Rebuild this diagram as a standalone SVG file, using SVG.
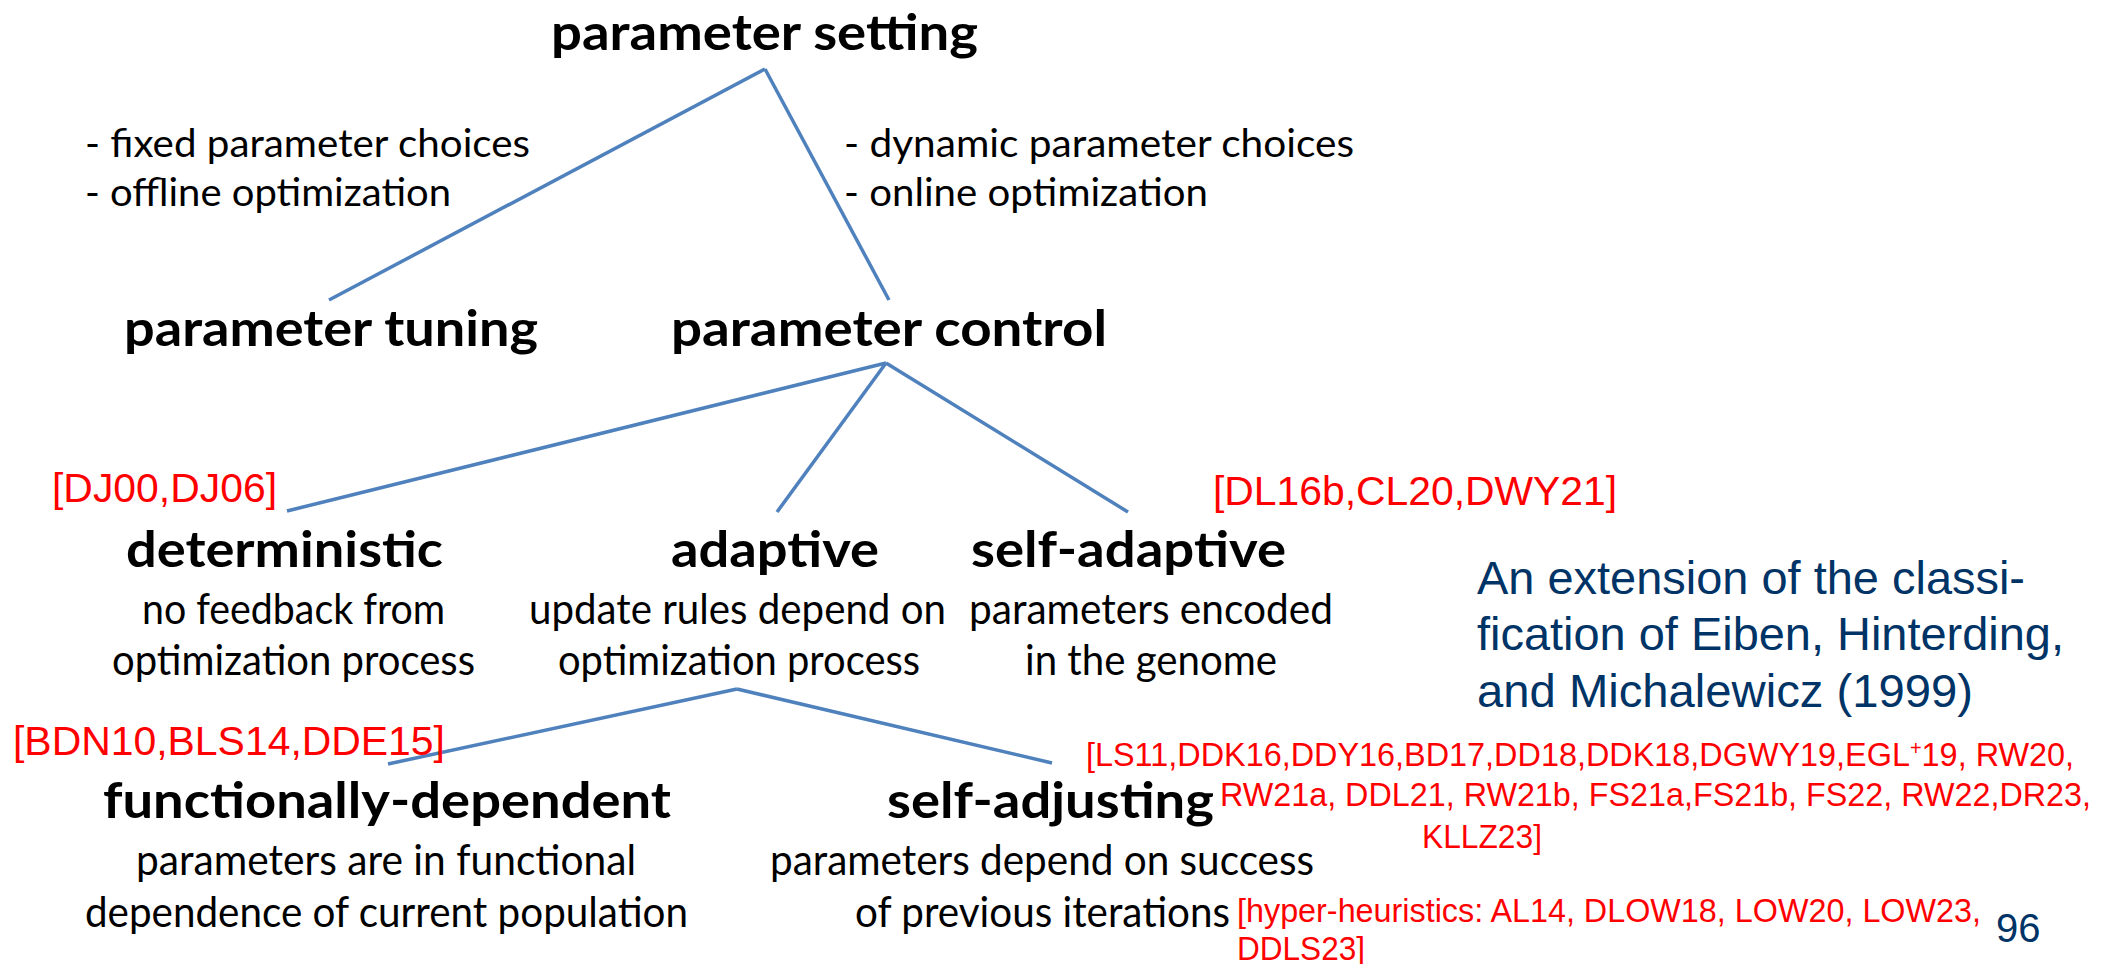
<svg xmlns="http://www.w3.org/2000/svg" width="2114" height="964" viewBox="0 0 2114 964">
  <style>
    .title { font-family: Lato, "Noto Sans", sans-serif; font-weight: 700; font-size: 49px; fill: #000; }
    .sub { font-family: Lato, "Noto Sans", sans-serif; font-weight: 400; font-size: 42px; fill: #000; }
    .lbl { font-family: Lato, "Noto Sans", sans-serif; font-weight: 400; font-size: 38px; fill: #000; }
    .ref { font-family: "Liberation Sans", Arial, sans-serif; font-size: 41px; fill: #ff0000; }
    .refs { font-family: "Liberation Sans", Arial, sans-serif; font-size: 32.4px; fill: #ff0000; }
    .note { font-family: "Liberation Sans", Arial, sans-serif; font-size: 47px; fill: #003366; }
    .page { font-family: "Liberation Sans", Arial, sans-serif; font-size: 40px; fill: #003366; }
    .edge { stroke: #4f81bd; stroke-width: 3.5; fill: none; stroke-linecap: butt; }
  </style>
  <rect width="2114" height="964" fill="#ffffff"/>

  <!-- tree edges -->
  <g id="connectors">
    <line class="edge" x1="765" y1="69" x2="329" y2="300"/>
    <line class="edge" x1="765" y1="69" x2="889" y2="300"/>
    <line class="edge" x1="886" y1="363" x2="287" y2="511"/>
    <line class="edge" x1="886" y1="363" x2="777" y2="512"/>
    <line class="edge" x1="886" y1="363" x2="1128" y2="512"/>
    <line class="edge" x1="737" y1="689" x2="388" y2="764"/>
    <line class="edge" x1="737" y1="689" x2="1052" y2="763"/>
  </g>

  <g id="parameter-setting">
    <text class="title" x="551" y="50" textLength="427" lengthAdjust="spacingAndGlyphs">parameter setting</text>
  </g>

  <g id="offline-notes">
    <text class="lbl" x="85" y="157" textLength="445" lengthAdjust="spacingAndGlyphs">- fixed parameter choices</text>
    <text class="lbl" x="85" y="206" textLength="366" lengthAdjust="spacingAndGlyphs">- offline optimization</text>
  </g>

  <g id="online-notes">
    <text class="lbl" x="844" y="157" textLength="510" lengthAdjust="spacingAndGlyphs">- dynamic parameter choices</text>
    <text class="lbl" x="844" y="206" textLength="364" lengthAdjust="spacingAndGlyphs">- online optimization</text>
  </g>

  <g id="parameter-tuning">
    <text class="title" x="124" y="346" textLength="414" lengthAdjust="spacingAndGlyphs">parameter tuning</text>
  </g>

  <g id="parameter-control">
    <text class="title" x="671" y="346" textLength="436" lengthAdjust="spacingAndGlyphs">parameter control</text>
  </g>

  <g id="deterministic">
    <text class="ref" x="52" y="502" textLength="225" lengthAdjust="spacingAndGlyphs">[DJ00,DJ06]</text>
    <text class="title" x="126" y="567" textLength="317" lengthAdjust="spacingAndGlyphs">deterministic</text>
    <text class="sub" x="142" y="624" textLength="303" lengthAdjust="spacingAndGlyphs">no feedback from</text>
    <text class="sub" x="112" y="675" textLength="363" lengthAdjust="spacingAndGlyphs">optimization process</text>
  </g>

  <g id="adaptive">
    <text class="title" x="671" y="567" textLength="208" lengthAdjust="spacingAndGlyphs">adaptive</text>
    <text class="sub" x="529" y="624" textLength="417" lengthAdjust="spacingAndGlyphs">update rules depend on</text>
    <text class="sub" x="558" y="675" textLength="362" lengthAdjust="spacingAndGlyphs">optimization process</text>
  </g>

  <g id="self-adaptive">
    <text class="ref" x="1213" y="505" textLength="404" lengthAdjust="spacingAndGlyphs">[DL16b,CL20,DWY21]</text>
    <text class="title" x="971" y="567" textLength="315" lengthAdjust="spacingAndGlyphs">self-adaptive</text>
    <text class="sub" x="969" y="624" textLength="364" lengthAdjust="spacingAndGlyphs">parameters encoded</text>
    <text class="sub" x="1025" y="675" textLength="252" lengthAdjust="spacingAndGlyphs">in the genome</text>
  </g>

  <g id="classification-note">
    <text class="note" x="1477" y="594" textLength="548" lengthAdjust="spacingAndGlyphs">An extension of the classi-</text>
    <text class="note" x="1477" y="650" textLength="587" lengthAdjust="spacingAndGlyphs">fication of Eiben, Hinterding,</text>
    <text class="note" x="1477" y="707" textLength="496" lengthAdjust="spacingAndGlyphs">and Michalewicz (1999)</text>
  </g>

  <g id="functionally-dependent">
    <text class="ref" x="13" y="755" textLength="432" lengthAdjust="spacingAndGlyphs">[BDN10,BLS14,DDE15]</text>
    <text class="title" x="103" y="818" textLength="568" lengthAdjust="spacingAndGlyphs">functionally-dependent</text>
    <text class="sub" x="136" y="875" textLength="500" lengthAdjust="spacingAndGlyphs">parameters are in functional</text>
    <text class="sub" x="85" y="927" textLength="603" lengthAdjust="spacingAndGlyphs">dependence of current population</text>
  </g>

  <g id="self-adjusting">
    <text class="title" x="887" y="818" textLength="327" lengthAdjust="spacingAndGlyphs">self-adjusting</text>
    <text class="sub" x="770" y="875" textLength="544" lengthAdjust="spacingAndGlyphs">parameters depend on success</text>
    <text class="sub" x="855" y="927" textLength="375" lengthAdjust="spacingAndGlyphs">of previous iterations</text>
    <text class="refs" x="1086" y="766">[LS11,DDK16,DDY16,BD17,DD18,DDK18,DGWY19,EGL<tspan font-size="20" dy="-11">+</tspan><tspan dy="11">19, RW20,</tspan></text>
    <text class="refs" x="1220" y="806" textLength="871" lengthAdjust="spacingAndGlyphs">RW21a, DDL21, RW21b, FS21a,FS21b, FS22, RW22,DR23,</text>
    <text class="refs" x="1422" y="848" textLength="120" lengthAdjust="spacingAndGlyphs">KLLZ23]</text>
    <text class="refs" x="1237" y="922" textLength="744" lengthAdjust="spacingAndGlyphs">[hyper-heuristics: AL14, DLOW18, LOW20, LOW23,</text>
    <text class="refs" x="1237" y="960" textLength="128" lengthAdjust="spacingAndGlyphs">DDLS23]</text>
  </g>

  <g id="page-number">
    <text class="page" x="1996" y="942">96</text>
  </g>
</svg>
